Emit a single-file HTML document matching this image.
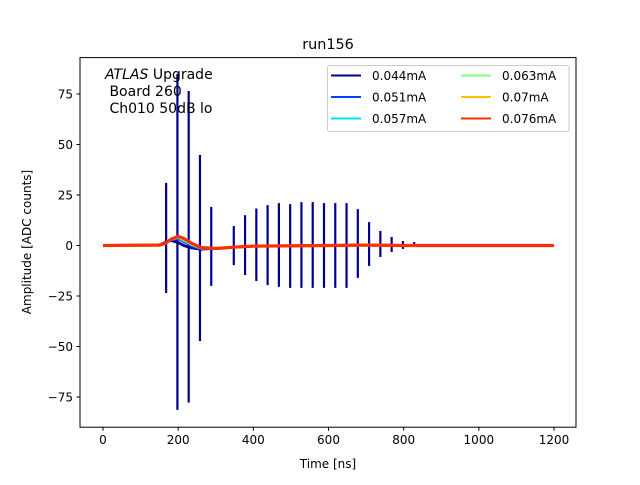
<!DOCTYPE html>
<html><head><meta charset="utf-8"><style>
body{margin:0;background:#fff}
svg{font-family:"DejaVu Sans","Liberation Sans",sans-serif}
</style></head><body>
<svg id="c" width="640" height="480" xmlns="http://www.w3.org/2000/svg">
<rect width="640" height="480" fill="#fff"/>
<text x="328" y="49" font-size="14.4" text-anchor="middle">run156</text>
<g id="plot"></g>
<rect x="80" y="57.6" width="496" height="369.6" fill="none" stroke="#000" stroke-width="1"/>
<g id="ticks" font-size="12"></g>
<text x="328" y="468" font-size="12" text-anchor="middle">Time [ns]</text>
<text transform="translate(31,242) rotate(-90)" font-size="12" text-anchor="middle">Amplitude [ADC counts]</text>
<g font-size="14">
<text x="105" y="79"><tspan font-style="italic">ATLAS</tspan> Upgrade</text>
<text x="105" y="96" xml:space="preserve"> Board 260</text>
<text x="105" y="113" xml:space="preserve"> Ch010 50dB lo</text>
</g>
<g id="legend">
<rect x="327.5" y="65.5" width="241.5" height="66" rx="2" fill="#fff" fill-opacity="0.8" stroke="#ccc"/>
</g>
</svg>
<script>
const seriesNames=["0.044mA","0.051mA","0.057mA","0.063mA","0.07mA","0.076mA"];
const seriesColors=["#00008f","#0040ff","#00e0ff","#80ff80","#ffc000","#ff3000"];
const baseTimes=[0,150,165,180,200,215,235,260,300,350,400,600,700,800,1200];
const baseVals=[
[0,0.3,1.5,2.5,1.5,0,-1.2,-1.8,-1.5,-0.8,-0.3,0,0.3,0,0],
[0,0.3,1.2,2.8,3.5,2,0,-1.5,-1.5,-0.8,-0.3,0,0.2,0,0],
[0,0.2,1,2.8,4,2.5,0.5,-1.3,-1.5,-0.8,-0.3,0,0.2,0,0],
[0,0.2,1,3,4.2,3,0.8,-1.2,-1.5,-0.8,-0.3,0,0.2,0,0],
[0,0.2,1,3,4.3,3.2,1,-1,-1.5,-0.8,-0.3,0,0.2,0,0],
[0,0.2,1,3,4.5,3.5,1.2,-1,-1.5,-0.8,-0.3,0,0.2,0,0]
];
const spikeTimes=[168,198,228,258,288,348,378,408,438,468,498,528,558,588,618,648,678,708,738,768,798,828];
const spikeTops=[31,85,76.5,44.8,19.1,9.6,15,18.3,20,21,20.5,21.5,21.5,21,21,21,18,11.6,7.2,4.2,2.2,1.7];
const spikeBottoms=[-23.5,-81.4,-77.7,-47.3,-20,-9.7,-14.6,-17.6,-19.6,-20.5,-21,-21,-21,-21,-21,-21,-16,-10.1,-5.7,-3.2,-1.7,-0.7];
const xTicks=[0,200,400,600,800,1000,1200];
const yTicks=[-75,-50,-25,0,25,50,75];

const NS="http://www.w3.org/2000/svg";
const X=t=>103+t*(451/1200);
const Y=v=>245.5-v*2.02;
function mk(tag,attrs,parent){const e=document.createElementNS(NS,tag);for(const k in attrs)e.setAttribute(k,attrs[k]);parent.appendChild(e);return e;}
const plot=document.getElementById('plot');
spikeTimes.forEach((t,i)=>{
 const l=mk('line',{x1:X(t),x2:X(t),y1:Y(spikeTops[i]),y2:Y(spikeBottoms[i]),stroke:seriesColors[0],'stroke-width':2.2},plot);
 
 
});
baseVals.forEach((vals,s)=>{
 const d=baseTimes.map((t,i)=>(i?'L':'M')+X(t).toFixed(1)+','+Y(vals[i]).toFixed(1)).join(' ');
 const p=mk('path',{d:d,fill:'none',stroke:seriesColors[s],'stroke-width':s==5?3.2:2.8,'stroke-linejoin':'round'},plot);
 
 
});
const tk=document.getElementById('ticks');
xTicks.forEach(t=>{
 mk('line',{x1:X(t),x2:X(t),y1:427.2,y2:430.7,stroke:'#000'},tk);
 const tx=mk('text',{x:X(t),y:444,'text-anchor':'middle'},tk);tx.textContent=t;
 
 
});
yTicks.forEach(v=>{
 mk('line',{x1:76.5,x2:80,y1:Y(v),y2:Y(v),stroke:'#000'},tk);
 const tx=mk('text',{x:73,y:Y(v)+4.5,'text-anchor':'end'},tk);tx.textContent=(v<0?'\u2212'+(-v):v);
 
 
});
const lg=document.getElementById('legend');
seriesNames.forEach((n,i)=>{
 const col=Math.floor(i/3),row=i%3;
 const lx=331+col*130,ly=75.5+row*21.5;
 mk('line',{x1:lx,x2:lx+30,y1:ly,y2:ly,stroke:seriesColors[i],'stroke-width':2},lg);
 const t=mk('text',{x:lx+41,y:ly+4.5,'font-size':12},lg);t.textContent=n;
 
 
});
</script>
</body></html>
